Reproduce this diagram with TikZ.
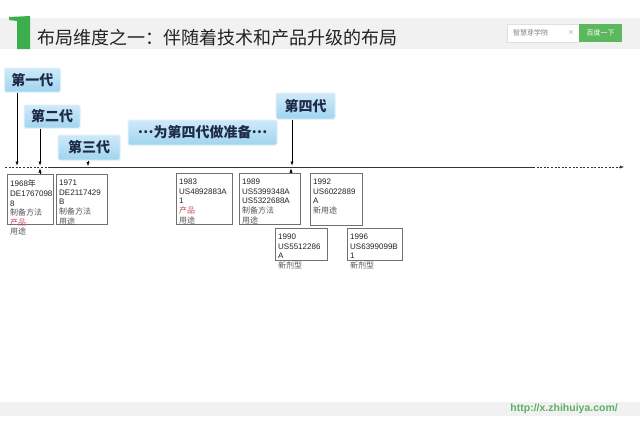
\documentclass[tikz,border=0pt]{standalone}
\usepackage{fontspec}
\setmainfont{Liberation Sans}
\newfontfamily\cjk{Noto Sans CJK SC}
\usetikzlibrary{arrows.meta}
\definecolor{bandgray}{HTML}{F1F1F1}
\definecolor{gbar}{HTML}{3DAE4C}
\definecolor{btngreen}{HTML}{5BB85D}
\definecolor{urlgreen}{HTML}{5FAF68}
\definecolor{titlec}{HTML}{222222}
\definecolor{navy}{HTML}{1E2B48}
\definecolor{ctop}{HTML}{CFEAF9}
\definecolor{cbot}{HTML}{9FD4F0}
\definecolor{cedge}{HTML}{DDF0FA}
\definecolor{boxline}{HTML}{707070}
\definecolor{cgray}{HTML}{555555}
\definecolor{cred}{HTML}{D0455A}
\definecolor{lineg}{HTML}{333333}
\tikzset{
  callout/.style={font=\cjk\bfseries\fontsize{14}{16}\selectfont, text=navy,
    top color=ctop, bottom color=cbot, draw=cedge, line width=1pt,
    rounded corners=1.5pt, inner sep=0pt},
  pbox/.style={draw=boxline, line width=0.7pt, fill=white, inner sep=0pt, anchor=north west},
  ptext/.style={anchor=north west, inner sep=0pt, align=left, text=titlec,
    font=\fontsize{8}{9.6}\selectfont},
  arr/.style={draw=black, line width=0.5pt, -{Latex[length=4pt,width=3.2pt]}},
  tline/.style={draw=lineg, line width=0.6pt},
  dashline/.style={tline, dash pattern=on 2pt off 1.6pt}
}
\newcommand{\cgtxt}[1]{{\cjk\color{cgray}#1}}
\newcommand{\crtxt}[1]{{\cjk\color{cred}#1}}
\newcommand{\midell}{\raisebox{0.28em}{…}}
\begin{document}
\begin{tikzpicture}[x=1pt,y=-1pt]
\useasboundingbox (0,0) rectangle (640,423);
\fill[white] (0,0) rectangle (640,423);
% header
\fill[bandgray] (0,18) rectangle (640,49);
\fill[gbar] (9,17) -- (30,16) -- (30,49) -- (17,49) -- (17,21) -- (9,20) -- cycle;
\node[anchor=west, inner sep=0pt, text=titlec, font=\cjk\fontsize{18}{20}\selectfont] (title) at (37,38) {布局维度之一：伴随着技术和产品升级的布局};
\node[draw=gray!25, fill=white, minimum width=72pt, minimum height=18pt, inner sep=0pt, anchor=north west] (search) at (507,24) {};
\node[anchor=west, inner sep=0pt, text=gray, font=\cjk\fontsize{7}{8}\selectfont] (stext) at (513,33) {智慧芽学院};
\node[anchor=center, inner sep=0pt, text=gray!60, font=\fontsize{9}{10}\selectfont] (sx) at (571,33) {×};
\node[fill=btngreen, minimum width=43pt, minimum height=18pt, inner sep=0pt, anchor=north west, text=white, font=\cjk\fontsize{7}{8}\selectfont] (btn) at (579,24) {百度一下};
% footer
\fill[bandgray] (0,402) rectangle (640,416);
\node[anchor=east, inner sep=0pt, text=urlgreen, font=\bfseries\fontsize{10.5}{12}\selectfont] (url) at (618,409) {http://x.zhihuiya.com/};
% timeline
\coordinate (tl0) at (5,167);
\coordinate (tl1) at (48,167);
\coordinate (tl2) at (533,167);
\coordinate (tl3) at (624,167);
\draw[dashline] (tl0) -- (tl1);
\draw[tline] (tl1) -- (tl2);
\draw[dashline, -{Latex[length=4pt,width=3.2pt]}] (tl2) -- (tl3);
% callouts
\node[callout, minimum width=56pt, minimum height=24pt] (c1) at (32.5,80) {第一代};
\node[callout, minimum width=56pt, minimum height=23pt] (c2) at (52,116.5) {第二代};
\node[callout, minimum width=62pt, minimum height=25pt] (c3) at (89,147.5) {第三代};
\node[callout, minimum width=149pt, minimum height=25pt] (c4) at (202.5,132.5) {\midell 为第四代做准备\midell};
\node[callout, minimum width=59pt, minimum height=26pt] (c5) at (305.5,106) {第四代};
% patent boxes
\node[pbox, minimum width=46pt, minimum height=50pt] (b1968) at (7,174) {};
\node[pbox, minimum width=51pt, minimum height=50pt] (b1971) at (56,174) {};
\node[pbox, minimum width=56pt, minimum height=51pt] (b1983) at (176,173) {};
\node[pbox, minimum width=61pt, minimum height=51pt] (b1989) at (239,173) {};
\node[pbox, minimum width=52pt, minimum height=52pt] (b1992) at (310,173) {};
\node[pbox, minimum width=52pt, minimum height=32pt] (b1990) at (275,228) {};
\node[pbox, minimum width=55pt, minimum height=32pt] (b1996) at (347,228) {};
\node[ptext] (t1968) at ([shift={(3,6)}]b1968.north west) {1968{\cjk 年}\\DE1767098\\8\\\cgtxt{制备方法}\\\crtxt{产品}\\\cgtxt{用途}};
\node[ptext] (t1971) at ([shift={(3,6)}]b1971.north west) {1971\\DE2117429\\B\\\cgtxt{制备方法}\\\cgtxt{用途}};
\node[ptext] (t1983) at ([shift={(3,6)}]b1983.north west) {1983\\US4892883A\\1\\\crtxt{产品}\\\cgtxt{用途}};
\node[ptext] (t1989) at ([shift={(3,6)}]b1989.north west) {1989\\US5399348A\\US5322688A\\\cgtxt{制备方法}\\\cgtxt{用途}};
\node[ptext] (t1992) at ([shift={(3,6)}]b1992.north west) {1992\\US6022889\\A\\\cgtxt{新用途}};
\node[ptext] (t1990) at ([shift={(3,6)}]b1990.north west) {1990\\US5512286\\A\\\cgtxt{新剂型}};
\node[ptext] (t1996) at ([shift={(3,6)}]b1996.north west) {1996\\US6399099B\\1\\\cgtxt{新剂型}};
% arrows from callouts
\coordinate (a1) at (17,165.5);
\coordinate (a2) at (40,165.5);
\coordinate (a3) at (88,166);
\coordinate (a5) at (292,165.5);
\draw[arr] (c1.south -| a1) -- (a1);
\draw[arr] (c2.south -| a2) -- (a2);
\draw[arr] (c3.south -| a3) -- (a3);
\draw[arr] (c5.south -| a5) -- (a5);
% up arrows from boxes
\coordinate (u1) at (40,168.5);
\coordinate (u2) at (291,168.5);
\draw[arr] (b1968.north -| u1) -- (u1);
\draw[arr] (b1989.north -| u2) -- (u2);
\end{tikzpicture}
\end{document}
